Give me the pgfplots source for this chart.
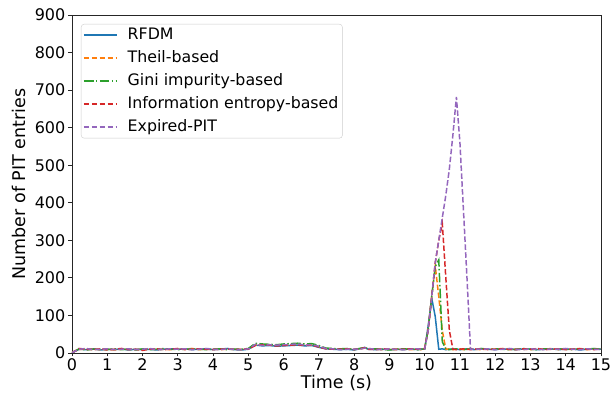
\documentclass[border=0pt]{standalone}
\usepackage{pgfplots}
\pgfplotsset{compat=1.18}
\usepackage{pgfplotstable}
\usepackage{fontspec}
\setmainfont{DejaVu Sans}
\definecolor{mblue}{HTML}{1F77B4}
\definecolor{morange}{HTML}{FF7F0E}
\definecolor{mgreen}{HTML}{2CA02C}
\definecolor{mred}{HTML}{D62728}
\definecolor{mpurple}{HTML}{9467BD}
\pgfplotstableread{
t rfdm theil gini info exp
0.0 0 2 1 0 1
0.2 10 9 11 12 10
0.4 9 11 8 10 12
0.6 11 10 10 9 9
0.8 8 9 10 11 10
1.0 10 11 9 8 11
1.2 9 8 11 10 9
1.4 11 10 9 12 10
1.6 8 11 10 9 11
1.8 10 9 8 10 9
2.0 9 10 11 7 10
2.2 10 11 9 10 12
2.4 8 9 10 11 9
2.6 10 10 12 9 10
2.8 11 9 10 10 11
3.0 10 11 9 12 10
3.2 11 10 10 9 11
3.4 9 12 11 10 9
3.6 10 9 10 11 10
3.8 11 10 9 10 12
4.0 9 11 10 9 10
4.2 10 9 11 10 9
4.4 12 10 9 11 11
4.6 9 11 10 9 10
4.8 8 9 10 10 9
5.0 10 11 12 10 11
5.2 21 22 26 20 23
5.4 19 21 24 22 20
5.6 20 22 23 21 22
5.8 18 20 22 19 21
6.0 19 21 24 20 22
6.2 20 22 25 21 23
6.4 21 23 26 22 24
6.6 19 22 24 20 21
6.8 20 21 25 21 22
7.0 15 17 20 16 18
7.2 11 12 13 11 12
7.4 10 11 12 10 11
7.6 9 10 11 10 9
7.8 10 11 12 11 10
8.0 8 10 9 9 10
8.2 12 11 13 12 11
8.3 15 13 14 14 13
8.4 10 12 11 10 12
8.6 9 10 11 9 10
8.8 10 9 10 11 9
9.0 9 10 8 10 11
9.2 10 11 10 9 10
9.4 9 10 11 10 9
9.6 11 9 10 11 10
9.8 9 10 9 10 11
9.9 10 9 10 11 10
10.0 10 12 11 12 11
10.1 72 65 62 60 60
10.2 146 150 150 150 150
10.3 97 232 230 240 240
10.4 10 150 248 300 300
10.5 11 60 30 345 360
10.6 9 10 10 200 420
10.7 10 11 9 60 490
10.8 11 9 10 10 580
10.9 10 10 11 9 682
11.0 9 11 10 10 560
11.1 10 9 9 11 380
11.2 11 10 10 10 200
11.3 10 12 11 9 10
11.4 9 10 10 10 11
11.6 11 9 12 11 10
11.8 10 11 10 9 11
12.0 9 10 11 10 9
12.2 11 12 10 11 10
12.4 10 9 9 10 12
12.6 9 11 10 9 10
12.8 11 10 12 11 9
13.0 10 9 10 10 11
13.2 9 11 9 12 10
13.4 10 10 11 9 9
13.6 11 12 10 10 11
13.8 9 9 11 11 10
14.0 10 11 10 9 12
14.2 11 10 9 10 10
14.4 8 12 11 11 9
14.6 10 9 10 10 11
14.8 11 11 12 9 10
15.0 10 10 10 11 9
}\datatab
\begin{document}
\begin{tikzpicture}
\begin{axis}[
  scale only axis,
  width=529pt, height=338pt,
  xmin=0, xmax=15, ymin=0, ymax=900,
  xtick={0,1,...,15}, ytick={0,100,...,900},
  tick align=outside,
  major tick length=3.5pt,
  tick style={black!85, line width=0.8pt},
  axis line style={black!85, line width=0.8pt},
  xtick pos=bottom, ytick pos=left,
  ticklabel style={font=\fontsize{16}{19}\selectfont},
  xticklabel style={inner sep=2pt},
  yticklabel style={inner sep=3pt},
  /pgf/number format/assume math mode=true,
  label style={font=\fontsize{17.5}{21}\selectfont},
  xlabel={Time (s)}, ylabel={Number of PIT entries},
  xlabel style={at={(axis description cs:0.5,0)}, yshift=-30pt, anchor=center},
  ylabel style={at={(axis description cs:0,0.5)}, yshift=53pt, anchor=center},
  legend cell align=left,
  legend style={at={(0,1)}, xshift=9pt, yshift=-9pt, anchor=north west, draw=black!20, rounded corners=3pt,
    font=\fontsize{15.8}{18}\selectfont, row sep=5pt, column sep=8pt, inner sep=2pt,
    nodes={inner sep=2pt, text height=11pt, text depth=3pt}},
  legend image code/.code={\draw[#1, line width=1.5pt] (0pt,0pt) -- (33pt,0pt);},
]
\addplot[mblue, line width=1.5pt] table[x=t, y=rfdm] {\datatab};
\addlegendentry{RFDM}
\addplot[morange, line width=1.5pt, dash pattern=on 5.5pt off 2.4pt] table[x=t, y=theil] {\datatab};
\addlegendentry{Theil-based}
\addplot[mgreen, line width=1.5pt, dash pattern=on 9.6pt off 2.4pt on 1.5pt off 2.4pt] table[x=t, y=gini] {\datatab};
\addlegendentry{Gini impurity-based}
\addplot[mred, line width=1.5pt, dash pattern=on 5.5pt off 2.4pt] table[x=t, y=info] {\datatab};
\addlegendentry{Information entropy-based}
\addplot[mpurple, line width=1.5pt, dash pattern=on 5.5pt off 2.4pt] table[x=t, y=exp] {\datatab};
\addlegendentry{Expired-PIT}
\end{axis}
\pgfresetboundingbox
\path ([shift={(-72pt,-50pt)}]current axis.south west) rectangle ([shift={(10pt,15pt)}]current axis.north east);
\end{tikzpicture}
\end{document}
